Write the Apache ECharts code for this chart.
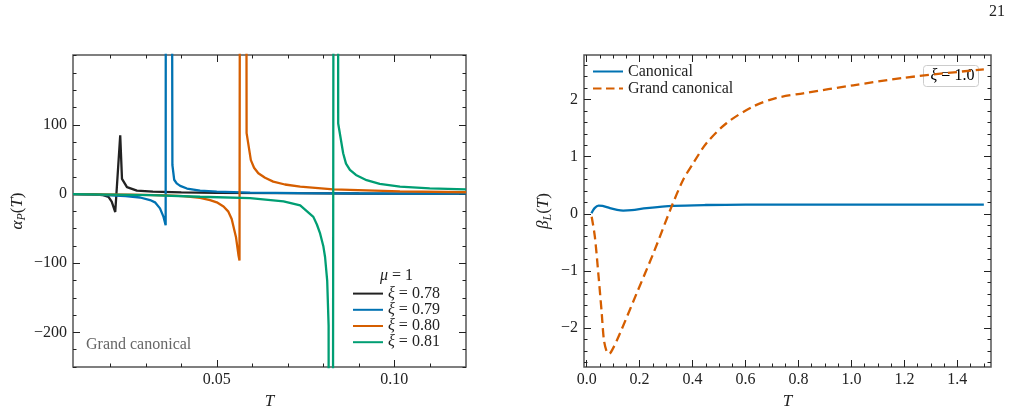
<!DOCTYPE html>
<html>
<head>
<meta charset="utf-8">
<script src="https://cdn.jsdelivr.net/npm/echarts@6/dist/echarts.min.js"></script>
<style>
  html, body { margin: 0; padding: 0; background: #fff; }
  #chart { width: 1012px; height: 412px; }
</style>
</head>
<body>
<div id="chart"></div>
<script>
// left panel: alpha_P(T), mu = 1
var leftNames = ['ξ = 0.78', 'ξ = 0.79', 'ξ = 0.80', 'ξ = 0.81'];
var tBlack = [0.0095, 0.015, 0.018, 0.0195, 0.0204, 0.0214, 0.0228, 0.0233, 0.0247, 0.0275, 0.032, 0.040, 0.050, 0.070, 0.090, 0.1202];
var vBlack = [0, -0.3, -1.5, -4, -11, -26, 85, 22, 10, 5, 3.5, 2.5, 1.8, 1.2, 0.8, 0.5];
var tBlue = [0.0095, 0.0172, 0.0243, 0.0284, 0.0312, 0.0326, 0.0340, 0.0350, 0.0356, 0.0360, 0.0375, 0.0380, 0.0387, 0.0397, 0.0416, 0.0453, 0.050, 0.0594, 0.0735, 0.1016, 0.1202];
var vBlue = [0, -1.2, -3, -5, -8.7, -12, -20.7, -33, -45, 4000, 42, 20.7, 15.5, 11.9, 8, 4.9, 3.4, 2, 1.3, 0.7, 0.55];
var tOrange = [0.0095, 0.0256, 0.0360, 0.0406, 0.0453, 0.0481, 0.0500, 0.0519, 0.0532, 0.0542, 0.0554, 0.0561, 0.0564, 0.0574, 0.0584, 0.0596, 0.0605, 0.0617, 0.0636, 0.0659, 0.0692, 0.0735, 0.0828, 0.1016, 0.1202];
var vOrange = [0, -0.8, -2, -3, -5.5, -8.7, -12, -18, -25, -36, -62, -88, -96, 4000, 88, 49, 38, 30, 23.5, 18, 13.8, 10.6, 6.8, 3.8, 2.6];
var tGreen = [0.0095, 0.0312, 0.0453, 0.0594, 0.0688, 0.0735, 0.0772, 0.0782, 0.0791, 0.0800, 0.0805, 0.0811, 0.0815, 0.0820, 0.0836, 0.0842, 0.0856, 0.0864, 0.0875, 0.0892, 0.0922, 0.0959, 0.1016, 0.1100, 0.1202];
var vGreen = [0, -1.5, -3.9, -6, -10.5, -16.5, -33, -44, -57, -75, -91, -125, -190, -4000, 4000, 102, 59, 44, 35, 27.6, 20, 14.7, 10.6, 8.3, 6.8];

// right panel: beta_L(T), xi = 1.0
var rightNames = ['Canonical', 'Grand canonical'];
var tCanon = [0.018, 0.030, 0.045, 0.060, 0.088, 0.115, 0.138, 0.170, 0.227, 0.327, 0.450, 0.600, 1.000, 1.500];
var vCanon = [0.01, 0.10, 0.145, 0.14, 0.10, 0.07, 0.058, 0.065, 0.10, 0.14, 0.155, 0.16, 0.16, 0.16];
var tGrand = [0.019, 0.031, 0.044, 0.057, 0.065, 0.075, 0.085, 0.100, 0.126, 0.189, 0.252, 0.321, 0.365, 0.403, 0.453, 0.529, 0.629, 0.718, 0.818, 1.007, 1.196, 1.500];
var vGrand = [-0.05, -0.40, -1.04, -1.74, -2.2, -2.40, -2.45, -2.35, -2.09, -1.39, -0.69, 0.13, 0.60, 0.89, 1.24, 1.59, 1.88, 2.03, 2.11, 2.25, 2.38, 2.53];

// ticks
var leftXMajor = [0.05, 0.10];
var leftYMajor = [-200, -100, 0, 100];
var rightXMajor = [0.0, 0.2, 0.4, 0.6, 0.8, 1.0, 1.2, 1.4];
var rightYMajor = [-2, -1, 0, 1, 2];

function steps(a, b, s) {
  var out = [];
  var n = Math.round((b - a) / s);
  for (var i = 0; i <= n; i++) out.push(+(a + i * s).toFixed(6));
  return out;
}
var leftXMinor = steps(0.02, 0.11, 0.01);
var leftYMinor = steps(-250, 200, 25);
var rightXMinor = steps(0, 1.5, 0.05);
var rightYMinor = steps(-2.6, 2.6, 0.2);

var ink = '#222';
var frame = '#555';
var serif = '"Liberation Serif", "DejaVu Serif", serif';
var colors = ['#222222', '#0072B2', '#D55E00', '#009E73'];
var solidIcon = 'path://M0,0h30v2h-30z';
var dashIcon = 'path://M0,0h8.5v2h-8.5zM13,0h8.5v2h-8.5zM26,0h4v2h-4z';

function pairs(t, v) {
  return t.map(function(x, i) { return [x, v[i]]; });
}
function minus(s) { return String(s).replace('-', '\u2212'); }

function axisSet(dim, grid, min, max, major, minor, fmt, extra) {
  var sides = dim === 'x' ? ['bottom', 'top'] : ['left', 'right'];
  var list = [];
  sides.forEach(function(side, k) {
    [major, minor].forEach(function(vals, j) {
      var ax = {
        type: 'value', gridIndex: grid, min: min, max: max, position: side,
        axisLine: { show: false, onZero: false },
        splitLine: { show: false },
        axisTick: {
          inside: true, length: j === 0 ? 7 : 3.5, customValues: vals,
          lineStyle: { color: ink, width: 1 }
        },
        axisLabel: { show: false }
      };
      if (k === 0 && j === 0) {
        ax.axisLabel = {
          show: true, customValues: vals, color: ink, fontFamily: serif, fontSize: 16,
          margin: dim === 'x' ? 5 : 6, formatter: fmt
        };
        Object.assign(ax, extra);
      }
      list.push(ax);
    });
  });
  return list;
}

var rich = {
  i: { fontFamily: serif, fontStyle: 'italic', fontSize: 17, color: ink },
  s: { fontFamily: serif, fontStyle: 'italic', fontSize: 12, color: ink, padding: [8, 0, 0, 0] },
  n: { fontFamily: serif, fontSize: 17, color: ink }
};

var xAxes = [].concat(
  axisSet('x', 0, 0.0095, 0.1202, leftXMajor, leftXMinor, function(v) { return v.toFixed(2); },
    { name: '{i|T}', nameLocation: 'middle', nameGap: 16, nameTextStyle: { rich: rich } }),
  axisSet('x', 1, -0.01, 1.527, rightXMajor, rightXMinor, function(v) { return v.toFixed(1); },
    { name: '{i|T}', nameLocation: 'middle', nameGap: 16, nameTextStyle: { rich: rich } })
);
var yAxes = [].concat(
  axisSet('y', 0, -250, 201, leftYMajor, leftYMinor, function(v) { return minus(v); },
    { name: '{i|α}{s|P}{n|(}{i|T}{n|)}', nameLocation: 'middle', nameGap: 45, nameRotate: 90, nameTextStyle: { rich: rich } }),
  axisSet('y', 1, -2.68, 2.78, rightYMajor, rightYMinor, function(v) { return minus(v); },
    { name: '{i|β}{s|L}{n|(}{i|T}{n|)}', nameLocation: 'middle', nameGap: 30, nameRotate: 90, nameTextStyle: { rich: rich } })
);

function line(name, t, v, color, xi, dashed, smooth) {
  return {
    name: name, type: 'line', data: pairs(t, v),
    xAxisIndex: xi, yAxisIndex: xi,
    symbol: 'none', showSymbol: false, smooth: smooth || false,
    lineStyle: { color: color, width: 2.3, type: dashed ? [9, 5] : 'solid' },
    itemStyle: { color: color },
    animation: false
  };
}

var legendText = {
  fontFamily: serif, fontSize: 16, color: ink,
  rich: { i: { fontFamily: serif, fontStyle: 'italic', fontSize: 16, color: ink }, n: { fontFamily: serif, fontSize: 16, color: ink } }
};

var chart = echarts.init(document.getElementById('chart'), null, { renderer: 'canvas' });
chart.setOption({
  animation: false,
  grid: [
    { left: 73, top: 55, width: 393, height: 312, outerBoundsMode: 'none', containLabel: false, show: true, borderColor: frame, borderWidth: 1.5, backgroundColor: 'transparent' },
    { left: 584, top: 55, width: 407, height: 312, outerBoundsMode: 'none', containLabel: false, show: true, borderColor: frame, borderWidth: 1.5, backgroundColor: 'transparent' }
  ],
  xAxis: xAxes,
  yAxis: yAxes,
  legend: [
    {
      data: leftNames.map(function(n) { return { name: n, icon: solidIcon }; }),
      left: 353, top: 285.5, padding: 0, orient: 'vertical', selectedMode: false,
      itemWidth: 30, itemHeight: 3, itemGap: 0,
      textStyle: Object.assign({ lineHeight: 16.2 }, legendText),
      formatter: function(n) { return '{i|ξ}{n|' + n.slice(1) + '}'; }
    },
    {
      data: [{ name: rightNames[0], icon: solidIcon }, { name: rightNames[1], icon: dashIcon }],
      left: 593, top: 63, padding: 0, orient: 'vertical', selectedMode: false,
      itemWidth: 30, itemHeight: 3, itemGap: 0,
      textStyle: Object.assign({ lineHeight: 17 }, legendText)
    }
  ],
  graphic: [
    { type: 'text', right: 7, top: 4, style: { text: '21', font: '16px ' + serif, fill: ink } },
    { type: 'text', left: 86, top: 337, style: { text: 'Grand canonical', font: '16px ' + serif, fill: '#666' } },
    { type: 'text', left: 380, top: 268, style: { text: '{i|μ}{n| = 1}', rich: legendText.rich, fill: ink } },
    {
      type: 'group', left: 923, top: 65, z: 100,
      children: [
        { type: 'rect', shape: { x: 0, y: 0, width: 55, height: 21, r: 3 }, style: { fill: 'rgba(255,255,255,0.8)', stroke: '#ccc', lineWidth: 1 } },
        { type: 'text', x: 7, y: 2, style: { text: '{i|ξ}{n| = 1.0}', rich: legendText.rich } }
      ]
    }
  ],
  series: [
    line(leftNames[0], tBlack, vBlack, colors[0], 0),
    line(leftNames[1], tBlue, vBlue, colors[1], 0),
    line(leftNames[2], tOrange, vOrange, colors[2], 0),
    line(leftNames[3], tGreen, vGreen, colors[3], 0),
    line(rightNames[0], tCanon, vCanon, colors[1], 4, false, 0.3),
    line(rightNames[1], tGrand, vGrand, colors[2], 4, true, 0.3)
  ]
});
window.addEventListener('resize', function() { chart.resize(); });
</script>
</body>
</html>
